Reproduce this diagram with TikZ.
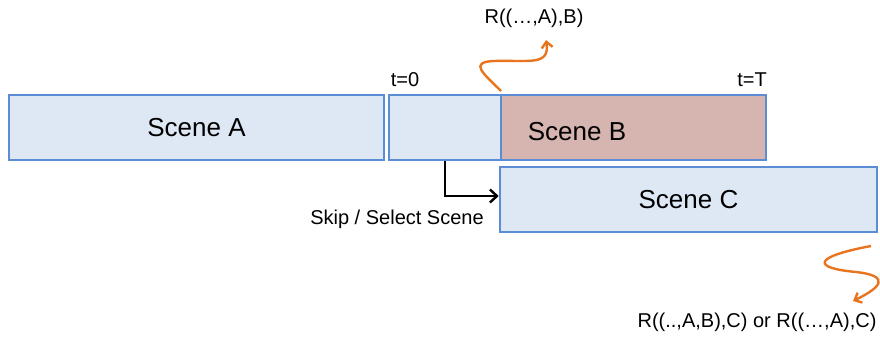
\documentclass[tikz,border=0pt]{standalone}
\usepackage{fontspec}
\setmainfont{Liberation Sans}
\usetikzlibrary{arrows.meta}
\definecolor{scenefill}{HTML}{DEE8F5}
\definecolor{sceneline}{HTML}{5B8DD4}
\definecolor{scenepink}{HTML}{D6B4B0}
\definecolor{wiggle}{HTML}{E8751E}

\begin{document}
\begin{tikzpicture}[x=1pt, y=-1pt,
    scene/.style={draw=sceneline, fill=scenefill, line width=2.6pt, inner sep=0pt,
        minimum height=65pt, font=\fontsize{26}{30}\selectfont},
    small/.style={font=\fontsize{20}{24}\selectfont, inner sep=0pt},
    wiggly/.style={draw=wiggle, line width=2.4pt, -{Straight Barb[length=6pt,width=11pt]}}]
    \useasboundingbox (0,0) rectangle (880,338);
    % scenes
    \node[scene, minimum width=375pt] (sceneA) at (196.5,127.5) {Scene A};
    \node[scene, minimum width=112pt] (gap) at (445,127.5) {};
    \node[scene, fill=scenepink, minimum width=265pt] (sceneB) at (633.5,127.5) {};
    \node[font=\fontsize{26}{30}\selectfont] (labelB) at (577,132) {Scene B};
    \node[scene, minimum width=377pt] (sceneC) at (688.5,199.5) {Scene C};
    % times
    \node[small] (tzero) at (405,80) {t=0};
    \node[small] (tend) at (752,80) {t=T};
    % skip arrow
    \coordinate (turn) at (445,196);
    \draw[line width=2.4pt, -{Straight Barb[length=7pt,width=13pt]}] (gap.south -| turn) -- (turn) -- (turn -| sceneC.west);
    \node[small] (skip) at (397,219) {Skip / Select Scene};
    % rewards
    \node[small] (rewardB) at (534,18) {R((\dots,A),B)};
    \node[small] (rewardC) at (757,322) {R((..,A,B),C) or R((…,A),C)};
    \coordinate (startB) at (501,91);
    \coordinate (tipB) at (546,40);
    \coordinate (startC) at (871,246);
    \coordinate (tipC) at (853,301);
    \draw[wiggly] (startB) .. controls (484,74) and (468,62) .. (494,61)
        .. controls (530,60) and (550,66) .. (tipB);
    \draw[wiggly] (startC) .. controls (812,257) and (812,268) .. (856,272)
        .. controls (892,276) and (880,288) .. (tipC);
\end{tikzpicture}
\end{document}
